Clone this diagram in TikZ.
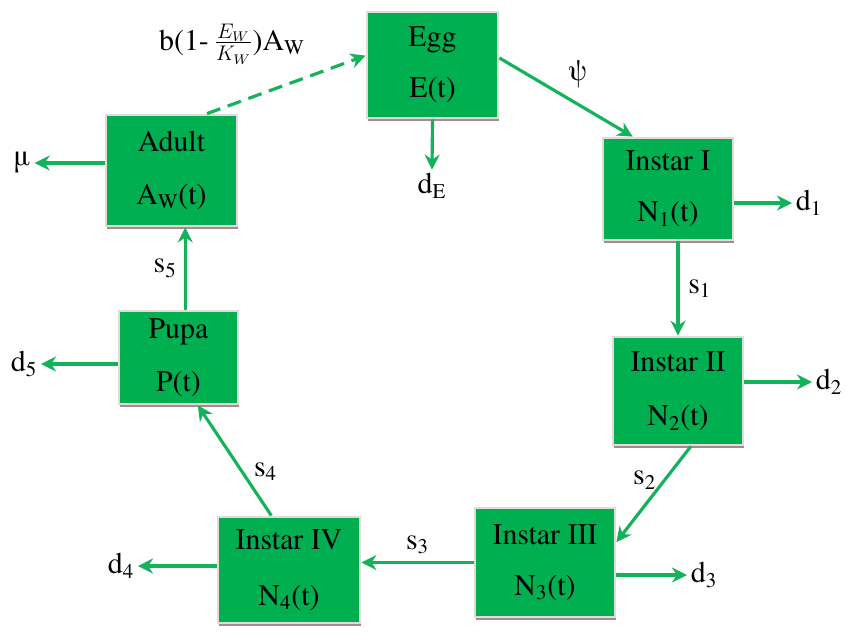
\documentclass[tikz,border=0pt]{standalone}
\usepackage{fontspec}
\setmainfont{TeX Gyre Termes}
\usetikzlibrary{arrows.meta,positioning,shadows,calc}
\usepackage{xcolor}
\definecolor{cajaverde}{RGB}{0,176,80}
\definecolor{flechaverde}{RGB}{20,178,90}
\definecolor{bordecaja}{RGB}{228,218,218}
\definecolor{sombracaja}{RGB}{165,140,140}
\newcommand{\stagebox}[3]{%
  \node[rectangle, draw=bordecaja, line width=1.6pt, fill=cajaverde,
        align=center, font=\fontsize{17}{20}\selectfont,
        minimum width=#2, minimum height=#3, inner sep=2pt,
        drop shadow={shadow xshift=0.8pt, shadow yshift=-1.8pt, fill=sombracaja, opacity=1}] (#1) }
\tikzset{
  flujo/.style={flechaverde, line width=1.8pt, -{Stealth[length=3mm,width=3mm]}},
  etiqueta/.style={text=black, font=\fontsize{17}{20}\selectfont, inner sep=2pt}
}

\begin{document}
\begin{tikzpicture}[x=0.02cm, y=-0.02cm]
\useasboundingbox (0,0) rectangle (847,633);

\stagebox{EggST}{2.62cm}{2.12cm} at (432.5,65)
  {Egg\\[9pt]E(t)};
\stagebox{AdultST}{2.62cm}{2.22cm} at (171.5,170.5)
  {Adult\\[10pt]A\textsubscript{W}(t)};
\stagebox{InstarOneST}{2.6cm}{2.04cm} at (668,189)
  {Instar I\\[9pt]N\textsubscript{1}(t)};
\stagebox{InstarTwoST}{2.6cm}{2.16cm} at (678,391)
  {Instar II\\[11pt]N\textsubscript{2}(t)};
\stagebox{InstarThreeST}{2.8cm}{2.18cm} at (545,562.5)
  {Instar III\\[9pt]N\textsubscript{3}(t)};
\stagebox{InstarFourST}{2.84cm}{2.12cm} at (289,570)
  {Instar IV\\[12pt]N\textsubscript{4}(t)};
\stagebox{PupaST}{2.38cm}{1.86cm} at (178.5,357.5)
  {Pupa\\[10pt]P(t)};

\node[etiqueta] (dE) at (432,186) {d\textsubscript{E}};
\node[etiqueta] (mu) at (22,163) {μ};
\node[etiqueta] (d1) at (809,203) {d\textsubscript{1}};
\node[etiqueta] (d2) at (829,382) {d\textsubscript{2}};
\node[etiqueta] (d3) at (704,575) {d\textsubscript{3}};
\node[etiqueta] (d4) at (121,566) {d\textsubscript{4}};
\node[etiqueta] (d5) at (24,364) {d\textsubscript{5}};
\node[etiqueta] (reclut) at (232,44) {b(1-\,$\frac{E_W}{K_W}$)A\textsubscript{W}};

\draw[flujo] (EggST.6) -- node[etiqueta, above right=0pt and 2pt, pos=0.45] {ψ} (InstarOneST.124);
\draw[flujo] (EggST.south) -- (dE.north);
\draw[flujo] (InstarOneST.east |- d1) -- (d1);
\draw[flujo] (InstarTwoST.north |- InstarOneST.south) -- node[etiqueta, right=3pt] {s\textsubscript{1}} (InstarTwoST.north);
\draw[flujo] (InstarTwoST.east |- d2) -- (d2);
\draw[flujo] (InstarTwoST.283) -- node[etiqueta, left=2pt, pos=0.35] {s\textsubscript{2}} (InstarThreeST.16);
\draw[flujo] (InstarThreeST.east |- d3) -- (d3);
\draw[flujo] (InstarThreeST.west) -- node[etiqueta, above=2pt] {s\textsubscript{3}} (InstarFourST.east |- InstarThreeST.west);
\draw[flujo] (InstarFourST.west |- d4) -- (d4);
\draw[flujo] (InstarFourST.108) -- node[etiqueta, right=4pt, pos=0.4] {s\textsubscript{4}} (PupaST.292);
\draw[flujo] (PupaST.west |- d5) -- (d5);
\draw[flujo] (PupaST.82) -- node[etiqueta, left=2pt] {s\textsubscript{5}} (PupaST.82 |- AdultST.south);
\draw[flujo] (AdultST.west |- mu) -- (mu);
\draw[flujo, dash pattern=on 8pt off 4.5pt] (AdultST.58) -- (EggST.172);

\end{tikzpicture}
\end{document}
